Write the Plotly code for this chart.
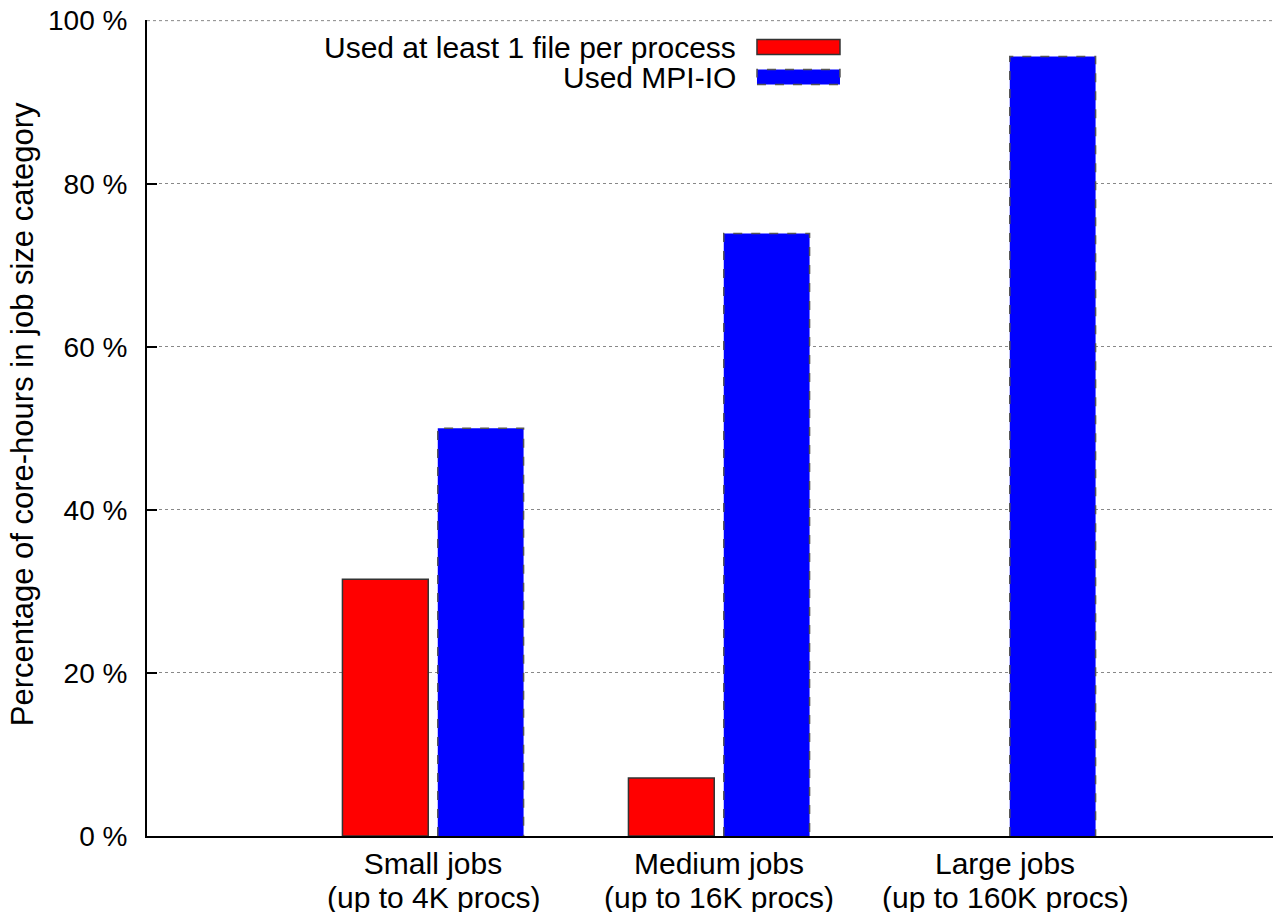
import plotly.graph_objects as go

category_names = ["Small jobs", "Medium jobs", "Large jobs"]
category_details = ["(up to 4K procs)", "(up to 16K procs)", "(up to 160K procs)"]
series_names = ["Used at least 1 file per process", "Used MPI-IO"]
file_per_process = [31.5, 7.1, 0.0]
mpi_io = [50.0, 73.9, 95.6]
y_ticks = [0, 20, 40, 60, 80, 100]
y_tick_labels = ["0 %", "20 %", "40 %", "60 %", "80 %", "100 %"]
y_title = "Percentage of core-hours in job size category"

FONT = "Liberation Sans, Arial, sans-serif"
FS_TICK = 28
FS_TEXT = 30
BW = 0.3
OFF = 1.0 / 6.0
idx = list(range(len(category_names)))

fig = go.Figure()
fig.add_trace(go.Bar(
    x=[i - OFF for i in idx], y=[v if v > 0 else None for v in file_per_process], width=BW,
    marker=dict(color="#ff0000", line=dict(color="#333333", width=1.5)),
    name=series_names[0], showlegend=False, hoverinfo="y"))
fig.add_trace(go.Bar(
    x=[i + OFF for i in idx], y=mpi_io, width=BW,
    marker=dict(color="#0000ff", line=dict(width=0)),
    name=series_names[1], showlegend=False, hoverinfo="y"))

# dashed outlines for MPI-IO bars
for i, v in zip(idx, mpi_io):
    x0, x1 = i + OFF - BW / 2, i + OFF + BW / 2
    fig.add_trace(go.Scatter(
        x=[x0, x0, x1, x1], y=[0, v, v, 0], mode="lines",
        line=dict(color="#555555", width=1.5, dash="dash"),
        showlegend=False, hoverinfo="skip"))

fig.update_layout(
    width=1273, height=904,
    margin=dict(l=139, r=0, t=12, b=76),
    plot_bgcolor="white", paper_bgcolor="white",
    font=dict(family=FONT, size=FS_TEXT, color="black"),
    barmode="overlay",
    showlegend=False,
)
fig.update_xaxes(
    range=[-1, 2.965], tickmode="array", tickvals=idx, ticktext=category_names,
    showgrid=False, zeroline=False, showline=True, linecolor="black", linewidth=2,
    ticks="", tickfont=dict(size=FS_TEXT), fixedrange=True,
)
fig.update_yaxes(
    range=[0, 100.08], tickmode="array", tickvals=y_ticks, ticktext=y_tick_labels,
    showgrid=True, gridcolor="#888888", gridwidth=1, griddash="dot",
    zeroline=False, showline=True, linecolor="black", linewidth=2,
    ticks="inside", ticklen=10, tickwidth=1.5, tickcolor="black",
    ticklabelstandoff=12, tickfont=dict(size=FS_TICK),
    ticklabeloverflow="allow",
    automargin=False,
)

# top gridline (at the upper end of the range)
fig.add_shape(type="line", xref="paper", yref="y", x0=0, x1=1, y0=y_ticks[-1], y1=y_ticks[-1],
              line=dict(color="#888888", width=1, dash="dot"), layer="below")

# second line of category labels
for i, d in zip(idx, category_details):
    fig.add_annotation(x=i, y=-0.0748, xref="x", yref="paper", text=d,
                       showarrow=False, xanchor="center", yanchor="middle",
                       font=dict(size=FS_TEXT, family=FONT, color="black"))

# y axis title
fig.add_annotation(x=-0.1102, y=0.517, xref="paper", yref="paper", text=y_title,
                   textangle=-90, showarrow=False, xanchor="center", yanchor="middle",
                   font=dict(size=31, family=FONT, color="black"))

# legend (gnuplot style: text on the left, sample on the right)
legend_rows = [(0.9669, "#ff0000", "#333333", "solid"), (0.9301, "#0000ff", "#555555", "dash")]
for (yc, fill, lc, dash), name in zip(legend_rows, series_names):
    fig.add_annotation(x=0.5212, y=yc, xref="paper", yref="paper", text=name,
                       showarrow=False, xanchor="right", yanchor="middle",
                       font=dict(size=FS_TEXT, family=FONT, color="black"))
    fig.add_shape(type="rect", xref="paper", yref="paper",
                  x0=0.5379, x1=0.6111, y0=yc - 0.0092, y1=yc + 0.0092,
                  fillcolor=fill, line=dict(color=lc, width=1.5, dash=dash))

fig.write_html("out.html")
